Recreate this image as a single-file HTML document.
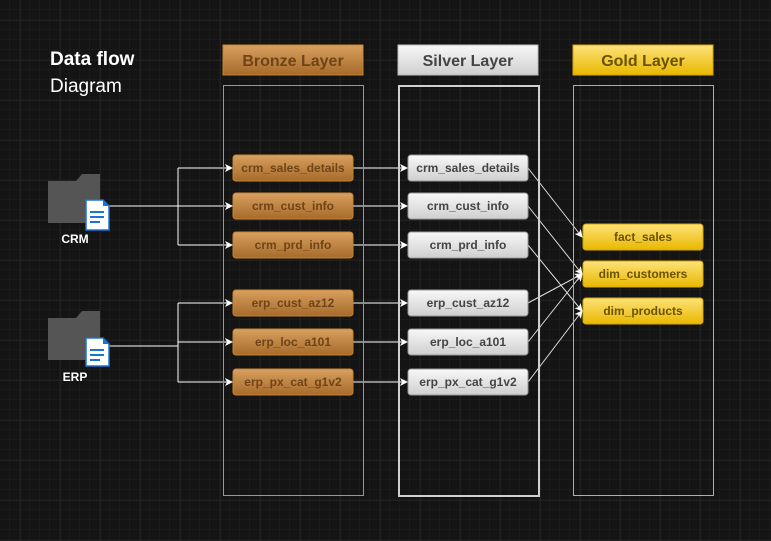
<!DOCTYPE html>
<html><head><meta charset="utf-8"><style>
html,body{margin:0;padding:0;}
body{width:771px;height:541px;overflow:hidden;background:#141414;font-family:"Liberation Sans",Arial,sans-serif;position:relative;}
.c{position:absolute;top:85px;width:139px;height:409px;box-sizing:content-box;}
</style></head><body>
<svg width="771" height="541" xmlns="http://www.w3.org/2000/svg" font-family="Liberation Sans, Arial, sans-serif" style="position:absolute;left:0;top:0">
<defs>
<pattern id="minor" width="10" height="10" patternUnits="userSpaceOnUse" x="0" y="0">
<path d="M10 0V10H0" fill="none" stroke="#1f1f1f" stroke-width="1"/>
</pattern>
<pattern id="major" width="40" height="40" patternUnits="userSpaceOnUse" x="20.5" y="20.5">
<path d="M0 0H40M0 0V40" fill="none" stroke="#2c2c2c" stroke-width="1"/>
</pattern>
<linearGradient id="bz" x1="0" y1="0" x2="0" y2="1"><stop offset="0" stop-color="#d9a060"/><stop offset="1" stop-color="#a66a2a"/></linearGradient>
<linearGradient id="sv" x1="0" y1="0" x2="0" y2="1"><stop offset="0" stop-color="#f8f8f8"/><stop offset="1" stop-color="#cfcfcf"/></linearGradient>
<linearGradient id="gd" x1="0" y1="0" x2="0" y2="1"><stop offset="0" stop-color="#fde27a"/><stop offset="1" stop-color="#e8b800"/></linearGradient>
<marker id="ar" markerWidth="8" markerHeight="8" refX="7" refY="4" orient="auto" markerUnits="userSpaceOnUse"><path d="M0 0L8 4L0 8L2 4Z" fill="#fff"/></marker>
</defs>
<rect width="771" height="541" fill="#141414"/>
<rect width="771" height="541" fill="url(#minor)"/>
<rect width="771" height="541" fill="url(#major)"/>

<text x="50" y="65" fill="#fff" font-size="19" font-weight="bold">Data flow</text>
<text x="50" y="92" fill="#fff" font-size="19">Diagram</text>

<rect x="223" y="45" width="140" height="30" fill="url(#bz)" style="stroke:#c8852e"/>
<text x="293" y="66" text-anchor="middle" font-size="16" font-weight="bold" fill="#6e4418">Bronze Layer</text>
<rect x="398" y="45" width="140" height="30" fill="url(#sv)" style="stroke:#bbb"/>
<text x="468" y="66" text-anchor="middle" font-size="16" font-weight="bold" fill="#444">Silver Layer</text>
<rect x="573" y="45" width="140" height="30" fill="url(#gd)" style="stroke:#d9a800"/>
<text x="643" y="66" text-anchor="middle" font-size="16" font-weight="bold" fill="#6b5200">Gold Layer</text>

<g stroke="#fff" stroke-width="1" fill="none">
<path d="M108 206H178"/>
<path d="M178 168V245"/>
<path d="M178 168H232" marker-end="url(#ar)"/>
<path d="M178 206H232" marker-end="url(#ar)"/>
<path d="M178 245H232" marker-end="url(#ar)"/>
<path d="M108 346H178"/>
<path d="M178 303V382"/>
<path d="M178 303H232" marker-end="url(#ar)"/>
<path d="M178 342H232" marker-end="url(#ar)"/>
<path d="M178 382H232" marker-end="url(#ar)"/>
<path d="M353 168H407" marker-end="url(#ar)"/>
<path d="M353 206H407" marker-end="url(#ar)"/>
<path d="M353 245H407" marker-end="url(#ar)"/>
<path d="M353 303H407" marker-end="url(#ar)"/>
<path d="M353 342H407" marker-end="url(#ar)"/>
<path d="M353 382H407" marker-end="url(#ar)"/>
<g stroke="#ddd">
<path d="M528 168L582 237" marker-end="url(#ar)"/>
<path d="M528 206L582 274" marker-end="url(#ar)"/>
<path d="M528 245L582 311" marker-end="url(#ar)"/>
<path d="M528 303L582 274" marker-end="url(#ar)"/>
<path d="M528 342L582 274" marker-end="url(#ar)"/>
<path d="M528 382L582 311" marker-end="url(#ar)"/>
</g>
</g>

<g>
<path d="M76 181L82 174H100V181Z" fill="#555"/>
<rect x="48" y="181" width="52" height="42" fill="#555"/>
<path d="M86 200H103L109 206V230H86Z" fill="#fff" stroke="#1a73d9" stroke-width="1.5"/>
<path d="M103 200V206H109Z" fill="#1a73d9"/>
<path d="M90 212H104M90 217H104M90 222H100" stroke="#1a73d9" stroke-width="2"/>
<text x="75" y="243" text-anchor="middle" fill="#fff" font-size="12" font-weight="bold">CRM</text>
</g>
<g>
<path d="M76 318L82 311H100V318Z" fill="#555"/>
<rect x="48" y="318" width="52" height="42" fill="#555"/>
<path d="M86 338H103L109 344V366H86Z" fill="#fff" stroke="#1a73d9" stroke-width="1.5"/>
<path d="M103 338V344H109Z" fill="#1a73d9"/>
<path d="M90 350H104M90 355H104M90 360H100" stroke="#1a73d9" stroke-width="2"/>
<text x="75" y="381" text-anchor="middle" fill="#fff" font-size="12" font-weight="bold">ERP</text>
</g>

<g font-size="12" font-weight="bold" text-anchor="middle">
<rect x="233" y="155" width="120" height="26" rx="3" fill="url(#bz)" style="stroke:#c8852e"/><text x="293" y="172" fill="#6e4418">crm_sales_details</text>
<rect x="233" y="193" width="120" height="26" rx="3" fill="url(#bz)" style="stroke:#c8852e"/><text x="293" y="210" fill="#6e4418">crm_cust_info</text>
<rect x="233" y="232" width="120" height="26" rx="3" fill="url(#bz)" style="stroke:#c8852e"/><text x="293" y="249" fill="#6e4418">crm_prd_info</text>
<rect x="233" y="290" width="120" height="26" rx="3" fill="url(#bz)" style="stroke:#c8852e"/><text x="293" y="307" fill="#6e4418">erp_cust_az12</text>
<rect x="233" y="329" width="120" height="26" rx="3" fill="url(#bz)" style="stroke:#c8852e"/><text x="293" y="346" fill="#6e4418">erp_loc_a101</text>
<rect x="233" y="369" width="120" height="26" rx="3" fill="url(#bz)" style="stroke:#c8852e"/><text x="293" y="386" fill="#6e4418">erp_px_cat_g1v2</text>
</g>
<g font-size="12" font-weight="bold" text-anchor="middle">
<rect x="408" y="155" width="120" height="26" rx="3" fill="url(#sv)" style="stroke:#999"/><text x="468" y="172" fill="#444">crm_sales_details</text>
<rect x="408" y="193" width="120" height="26" rx="3" fill="url(#sv)" style="stroke:#999"/><text x="468" y="210" fill="#444">crm_cust_info</text>
<rect x="408" y="232" width="120" height="26" rx="3" fill="url(#sv)" style="stroke:#999"/><text x="468" y="249" fill="#444">crm_prd_info</text>
<rect x="408" y="290" width="120" height="26" rx="3" fill="url(#sv)" style="stroke:#999"/><text x="468" y="307" fill="#444">erp_cust_az12</text>
<rect x="408" y="329" width="120" height="26" rx="3" fill="url(#sv)" style="stroke:#999"/><text x="468" y="346" fill="#444">erp_loc_a101</text>
<rect x="408" y="369" width="120" height="26" rx="3" fill="url(#sv)" style="stroke:#999"/><text x="468" y="386" fill="#444">erp_px_cat_g1v2</text>
</g>
<g font-size="12" font-weight="bold" text-anchor="middle">
<rect x="583" y="224" width="120" height="26" rx="3" fill="url(#gd)" style="stroke:#d9a800"/><text x="643" y="241" fill="#6b5200">fact_sales</text>
<rect x="583" y="261" width="120" height="26" rx="3" fill="url(#gd)" style="stroke:#d9a800"/><text x="643" y="278" fill="#6b5200">dim_customers</text>
<rect x="583" y="298" width="120" height="26" rx="3" fill="url(#gd)" style="stroke:#d9a800"/><text x="643" y="315" fill="#6b5200">dim_products</text>
</g>
</svg>
<div class="c" style="left:223px;border:1px solid #d0902a;"></div>
<div class="c" style="left:398px;top:85px;width:138px;height:408px;border:2px solid #d0d0d0;"></div>
<div class="c" style="left:573px;border:1px solid #e0b020;"></div>
</body></html>
